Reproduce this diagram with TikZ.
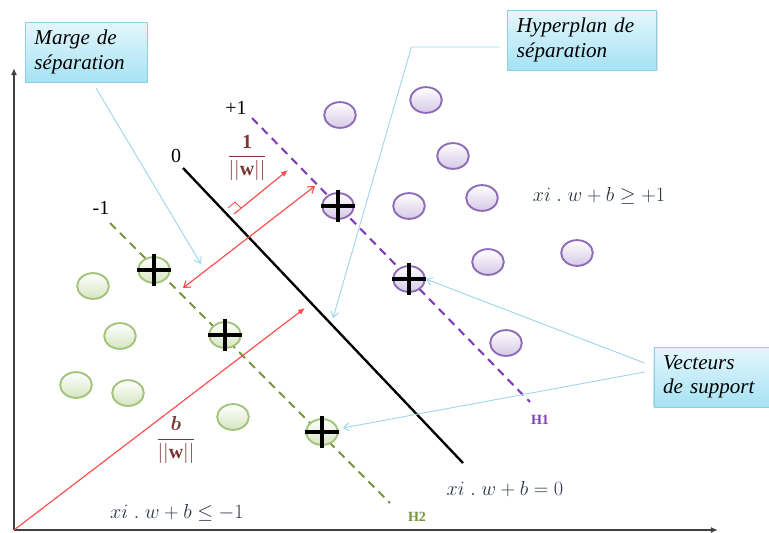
\documentclass[tikz,border=0pt]{standalone}
\usepackage{amsmath,amssymb}
\usepackage{fontspec}
\setmainfont{Liberation Serif}
\usetikzlibrary{arrows.meta,shapes.geometric,shadows,calc}

\definecolor{notetop}{HTML}{E4F7FC}
\definecolor{notebot}{HTML}{A6E2F4}
\definecolor{noteedge}{HTML}{8DCFE3}
\definecolor{callblue}{HTML}{9FD6E8}
\definecolor{purpedge}{HTML}{8E6BB5}
\definecolor{purpfill}{HTML}{D5C8E6}
\definecolor{greenedge}{HTML}{A3C27A}
\definecolor{greenfill}{HTML}{D6E5C0}
\definecolor{purpline}{HTML}{7E3FB8}
\definecolor{greenline}{HTML}{77933C}
\definecolor{redarr}{HTML}{FF4D4D}
\definecolor{fraccol}{HTML}{7B3535}
\definecolor{eqcol}{HTML}{2B3445}

\begin{document}
\begin{tikzpicture}[
    x=0.03cm, y=-0.03cm,
    note/.style={draw=noteedge, top color=notetop, bottom color=notebot,
        drop shadow={opacity=0.25, shadow xshift=1.2pt, shadow yshift=-1.2pt},
        align=left, inner xsep=8pt, minimum height=51pt,
        font=\fontsize{18}{21}\selectfont\itshape},
    ptp/.style={ellipse, draw=purpedge, line width=1.6pt, top color=white, bottom color=purpfill,
        minimum width=27pt, minimum height=22pt, inner sep=0pt},
    ptg/.style={ellipse, draw=greenedge, line width=1.6pt, top color=white, bottom color=greenfill,
        minimum width=27pt, minimum height=22pt, inner sep=0pt},
    plus/.style={line width=2.6pt, black},
    axis/.style={line width=1.6pt, black!75, -{Latex[length=6pt,width=5pt]}},
    sep/.style={line width=2pt, black},
    marg/.style={line width=1.8pt, dash pattern=on 7pt off 5pt},
    redarrow/.style={redarr, line width=1pt, -{Latex[length=6pt,width=5pt]}},
    callout/.style={callblue, line width=0.8pt, -{Straight Barb[length=5pt,width=7pt]}},
    lbl/.style={font=\fontsize{17}{20}\selectfont, inner sep=1pt},
    eq/.style={text=eqcol, font=\fontsize{16}{20}\selectfont, inner sep=1pt},
    frac/.style={text=fraccol, font=\fontsize{17}{20}\selectfont, inner sep=1pt},
    tag/.style={font=\fontsize{12}{14}\selectfont\bfseries, inner sep=1pt}
]
\path[use as bounding box, clip] (0,0) rectangle (769,532);

% axes
\coordinate (O) at (14,530);
\coordinate (ytip) at (14,68);
\coordinate (xtip) at (718,530);
\draw[axis] (O) -- (ytip);
\draw[axis] (O) -- (xtip);

% hyperplanes
\coordinate (h0a) at (183,168);
\coordinate (h0b) at (463,463);
\coordinate (h1a) at (252,118);
\coordinate (h1b) at (530,402);
\coordinate (h2a) at (110,223);
\coordinate (h2b) at (390,503);
\draw[sep] (h0a) -- (h0b);
\draw[marg, purpline] (h1a) -- (h1b);
\draw[marg, greenline] (h2a) -- (h2b);
\node[lbl] (l0) at (176,156) {0};
\node[lbl] (l1) at (236,108) {+1};
\node[lbl] (l2) at (101,208) {-1};
\node[tag, text=purpline] (H1) at (540,420) {H1};
\node[tag, text=greenline] (H2) at (417,517) {H2};

% class +1
\node[ptp] (p1) at (340,115) {};
\node[ptp] (p2) at (426,100) {};
\node[ptp] (p3) at (453,156) {};
\node[ptp] (p4) at (409,206) {};
\node[ptp] (p5) at (482,198) {};
\node[ptp] (p6) at (488,262) {};
\node[ptp] (p7) at (577,253) {};
\node[ptp] (p8) at (506,343) {};
\node[ptp] (s1) at (338,206) {};
\node[ptp] (s2) at (409,279) {};

% class -1
\node[ptg] (g1) at (93,286) {};
\node[ptg] (g2) at (120,336) {};
\node[ptg] (g3) at (76,385) {};
\node[ptg] (g4) at (128,393) {};
\node[ptg] (g5) at (233,417) {};
\node[ptg] (t1) at (154,270) {};
\node[ptg] (t2) at (225,335) {};
\node[ptg] (t3) at (322,432) {};

% support vectors
\foreach \s in {s1,s2,t1,t2,t3}
  \draw[plus] (\s.west) -- (\s.east) ($(\s.north)+(0,-2)$) -- ($(\s.south)+(0,2)$);

% distances
\coordinate (bt) at (305,308);
\coordinate (da) at (183,288);
\coordinate (db) at (315,186);
\coordinate (na) at (234,214);
\coordinate (nb) at (288,170);
\draw[redarrow] (O) -- (bt);
\draw[redarr, line width=1pt, {Straight Barb[length=5pt,width=7pt]}-{Straight Barb[length=5pt,width=7pt]}] (da) -- (db);
\draw[redarrow] (na) -- (nb);
\draw[redarr, line width=0.7pt] (na) ++(-6,-6) -- ++(7,-6) -- ++(6,6);
\node[frac] (f1) at (247,158) {$\dfrac{\mathbf{1}}{||\mathbf{w}||}$};
\node[frac] (f2) at (176,440) {$\dfrac{\boldsymbol{b}}{||\mathbf{w}||}$};

% equations
\node[eq] (e1) at (599,196) {$xi\;.\;w+b\geq +1$};
\node[eq] (e0) at (505,489) {$xi\;.\;w+b=0$};
\node[eq] (e2) at (177,513) {$xi\;.\;w+b\leq -1$};

% notes
\node[note, minimum width=104pt, text width=88pt] (marge) at (86,52) {Marge de\\séparation};
\node[note, minimum width=127pt, text width=111pt] (hyper) at (582,40) {Hyperplan de\\séparation};
\node[note, minimum width=102pt, text width=92pt] (vect) at (717,377) {Vecteurs\\de support};

\coordinate (mt) at (201,264);
\coordinate (ht) at (333,318);
\draw[callout] ($(marge.south)+(10,6)$) -- (mt);
\draw[callout] ($(hyper.west)+(-8,7)$) -- ++(-88,0) -- (ht);
\draw[callout] ($(vect.west)+(-9,-14)$) -- (s2.east);
\draw[callout] ($(vect.west)+(-9,-5)$) -- ($(t3.east)+(4,-4)$);
\end{tikzpicture}
\end{document}
